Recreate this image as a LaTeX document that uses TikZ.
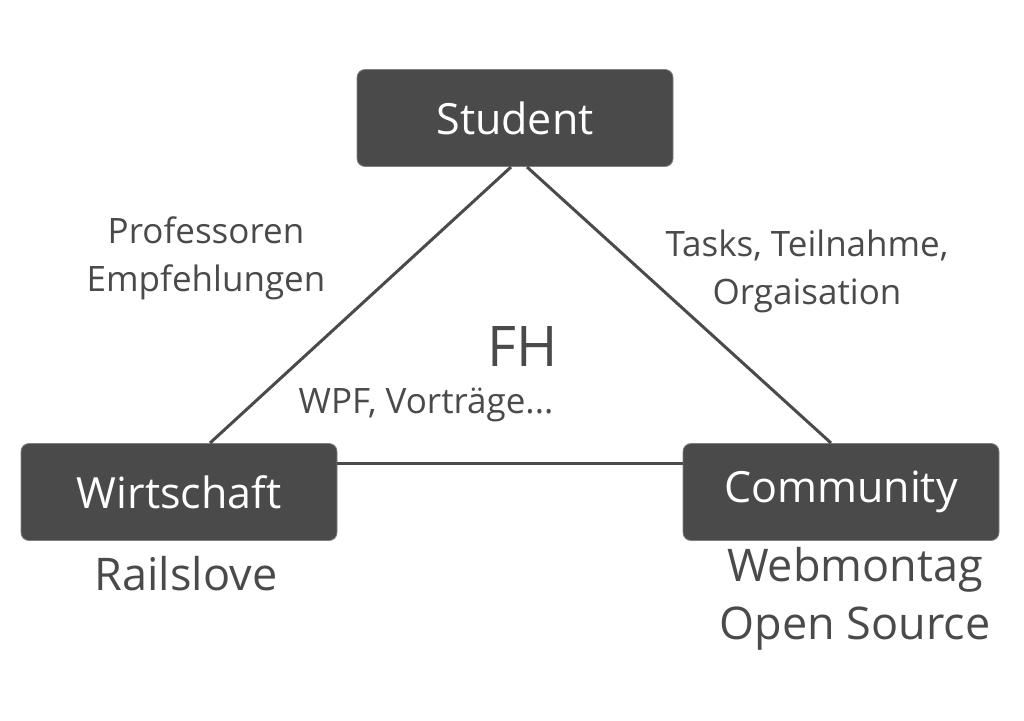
\documentclass[tikz,border=0pt]{standalone}
\usepackage{fontspec}
\setmainfont{Open Sans}
\definecolor{box}{HTML}{4A4A4A}
\definecolor{ink}{HTML}{4A4A4A}
\tikzset{
  entity/.style={fill=box, draw=box!70!white, line width=0.8pt, rounded corners=8pt, minimum width=316pt, minimum height=97pt, text=white, font=\fontsize{43}{48}\selectfont, inner sep=0pt},
  link/.style={draw=ink, line width=3pt},
  lbl/.style={text=ink, font=\fontsize{35}{48}\selectfont, align=center, inner sep=0pt},
  big/.style={text=ink, font=\fontsize{45}{58}\selectfont, align=center, inner sep=0pt}
}
\begin{document}
\begin{tikzpicture}[x=1pt,y=-1pt]
\useasboundingbox (0,0) rectangle (1024,720);
\node[entity] (student) at (515,118) {Student};
\node[entity] (wirt) at (179,492) {Wirtschaft};
\node[entity] (comm) at (841,492) {Community};
\coordinate (s1) at (511,167);
\coordinate (s2) at (527,167);
\coordinate (w1) at (210,443);
\coordinate (c1) at (831,443);
\coordinate (wr) at (337,463);
\coordinate (cl) at (683,463);
\draw[link] (s1) -- (w1);
\draw[link] (s2) -- (c1);
\draw[link] (wr) -- (cl);
\node[lbl] (prof) at (206,258) {Professoren\\Empfehlungen};
\node[lbl] (tasks) at (807,271) {Tasks, Teilnahme,\\Orgaisation};
\node[text=ink, font=\fontsize{56}{60}\selectfont, inner sep=0pt] (fh) at (523,347) {FH};
\node[lbl] (wpf) at (426,405) {WPF, Vorträge...};
\node[big] (rails) at (186,574) {Railslove};
\node[big] (web) at (855,599) {Webmontag\\Open Source};
\end{tikzpicture}
\end{document}
